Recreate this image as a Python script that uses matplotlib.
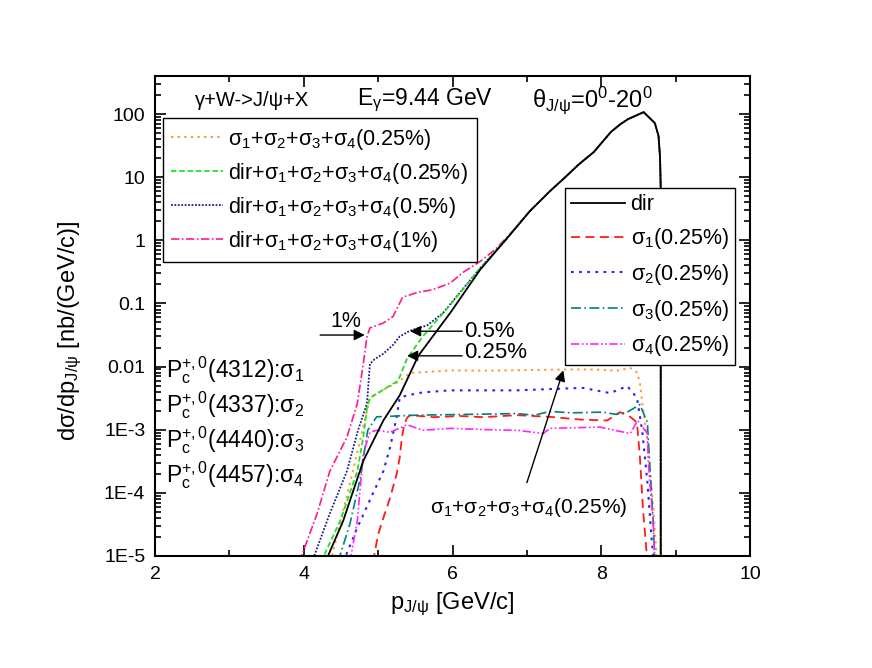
import matplotlib
matplotlib.use("Agg")
import matplotlib.pyplot as plt
from matplotlib.lines import Line2D
from matplotlib.ticker import FixedLocator, FixedFormatter, LogLocator, NullFormatter, MultipleLocator

plt.rcParams['font.family'] = ['Liberation Sans', 'DejaVu Sans']
plt.rcParams['mathtext.fontset'] = 'custom'
plt.rcParams['mathtext.rm'] = 'Liberation Sans'
plt.rcParams['mathtext.it'] = 'Liberation Sans'
plt.rcParams['mathtext.default'] = 'regular'

# ---------------- data ----------------
# direct production
dir_x = [4.29, 4.53, 4.80, 5.07, 5.29, 5.54, 5.97, 6.37, 6.71, 7.04, 7.31, 7.50, 7.70, 7.90,
         8.13, 8.25, 8.36, 8.57, 8.72, 8.77, 8.79, 8.80, 8.80]
dir_y = [8e-6, 3.6e-5, 3.2e-4, 1.4e-3, 3.5e-3, 0.0148, 0.071, 0.34, 1.0, 2.9, 6.0, 9.6, 16,
         25, 52, 68, 83, 107, 72, 45, 21, 6.5, 8e-6]

# shared high-momentum tail of the dir+sigma curves (coincides with dir)
tail_x = dir_x[9:]
tail_y = dir_y[9:]

# sigma_1 (0.25%)
s1_x = [4.93, 5.00, 5.07, 5.16, 5.25, 5.29, 5.32, 5.35, 5.39, 5.43, 5.74, 6.10, 6.41, 6.87,
        7.31, 7.71, 8.08, 8.25, 8.39, 8.48, 8.52, 8.56, 8.62]
s1_y = [8e-6, 2.2e-5, 4e-5, 8.3e-5, 2e-4, 3.6e-4, 7.6e-4, 1.2e-3, 1.55e-3, 1.7e-3, 1.58e-3,
        1.65e-3, 1.58e-3, 1.7e-3, 1.6e-3, 1.45e-3, 1.4e-3, 1.9e-3, 1.6e-3, 1.3e-3, 3.6e-4,
        5.8e-5, 8e-6]

# sigma_2 (0.25%)
s2_x = [4.53, 4.72, 4.93, 5.07, 5.16, 5.25, 5.29, 5.39, 5.60, 5.97, 6.40, 6.87, 7.30, 7.75,
        8.12, 8.35, 8.48, 8.55, 8.62, 8.68, 8.71]
s2_y = [8e-6, 2.8e-5, 9.8e-5, 2.2e-4, 5.2e-4, 1.6e-3, 3.2e-3, 3.5e-3, 3.9e-3, 4.2e-3, 4.2e-3,
        4.2e-3, 4.4e-3, 4.6e-3, 3.8e-3, 4.9e-3, 3.2e-3, 9.8e-4, 1.5e-4, 1.7e-5, 8e-6]

# sigma_3 (0.25%)
s3_x = [4.46, 4.62, 4.76, 4.86, 4.98, 5.52, 6.20, 6.87, 7.10, 7.31, 7.60, 8.02, 8.20, 8.35,
        8.52, 8.62, 8.66, 8.70, 8.72]
s3_y = [8e-6, 3.2e-5, 1.7e-4, 9.8e-4, 1.6e-3, 1.7e-3, 1.75e-3, 1.8e-3, 1.7e-3, 1.95e-3,
        1.85e-3, 1.9e-3, 1.75e-3, 1.9e-3, 2.5e-3, 1.3e-3, 2e-4, 3.2e-5, 8e-6]

# sigma_4 (0.25%)
s4_x = [4.62, 4.72, 4.76, 4.80, 4.89, 4.98, 5.16, 5.39, 5.60, 5.97, 6.50, 6.87, 7.22, 7.31,
        7.98, 8.39, 8.49, 8.62, 8.63, 8.66, 8.70, 8.72]
s4_y = [8e-6, 3.6e-5, 1.2e-4, 4.2e-4, 9.1e-4, 9.8e-4, 9.1e-4, 1.2e-3, 9.8e-4, 1.05e-3,
        1.0e-3, 9.8e-4, 8.7e-4, 1.05e-3, 1.1e-3, 8.7e-4, 1.4e-3, 8.7e-4, 3.6e-4, 1.1e-4,
        3.2e-5, 8e-6]

# sigma_1+sigma_2+sigma_3+sigma_4 (0.25%)
sum_x = [4.36, 4.66, 4.82, 4.89, 5.07, 5.25, 5.43, 5.97, 6.50, 7.00, 7.50, 7.90, 8.21, 8.39,
         8.48, 8.52, 8.56, 8.62, 8.66, 8.70, 8.75]
sum_y = [8e-6, 2.2e-4, 1.4e-3, 3.2e-3, 4.3e-3, 5.5e-3, 7.9e-3, 8.7e-3, 8.6e-3, 8.8e-3,
         9.0e-3, 9.0e-3, 8.6e-3, 9.5e-3, 8.1e-3, 5.5e-3, 2.2e-3, 6.8e-4, 2e-4, 5.8e-5, 8e-6]

# dir + sum, low-momentum parts (continue on the shared tail)
d025_x = [4.23, 4.49, 4.72, 4.80, 4.85, 4.89, 5.07, 5.27, 5.39, 5.60, 5.97, 6.37, 6.71]
d025_y = [8e-6, 3.6e-5, 2.2e-4, 7.6e-4, 2.2e-3, 3.2e-3, 4.3e-3, 6e-3, 0.0135, 0.03, 0.095,
          0.36, 1.0]
d05_x = [4.11, 4.35, 4.58, 4.73, 4.85, 4.89, 4.95, 5.07, 5.20, 5.29, 5.43, 5.66, 5.87, 6.14,
         6.37, 6.71]
d05_y = [8e-6, 4.7e-5, 2.2e-4, 9.8e-4, 2.6e-3, 0.011, 0.013, 0.016, 0.022, 0.03, 0.037,
         0.045, 0.07, 0.17, 0.36, 1.0]
d1_x = [3.94, 4.18, 4.35, 4.58, 4.72, 4.80, 4.85, 4.89, 5.07, 5.20, 5.33, 5.52, 5.74, 5.97,
        6.14, 6.37, 6.57, 6.80]
d1_y = [8e-6, 4.7e-5, 2.2e-4, 7.6e-4, 2.6e-3, 0.011, 0.03, 0.041, 0.049, 0.062, 0.126,
        0.148, 0.166, 0.21, 0.31, 0.46, 0.71, 1.35]

y_ticks = [1e-5, 1e-4, 1e-3, 1e-2, 1e-1, 1, 10, 100]
y_ticklabels = ['1E-5', '1E-4', '1E-3', '0.01', '0.1', '1', '10', '100']
x_ticks = [2, 4, 6, 8, 10]

# ---------------- styles ----------------
S = 'σ$_1$+σ$_2$+σ$_3$+σ$_4$'
styles = {
    'sum':  dict(color='#ff9933', ls=(0, (1.2, 2.2)), lw=1.4),
    'd025': dict(color='#22e022', ls=(0, (3, 1.6)), lw=1.3),
    'd05':  dict(color='#1c1c8c', ls=(0, (1, 0.9)), lw=1.3),
    'd1':   dict(color='#ff1a8c', ls=(0, (5, 1.5, 1, 1.5)), lw=1.2),
    'dir':  dict(color='black', ls='-', lw=1.3),
    's1':   dict(color='#ff1a1a', ls=(0, (5, 3)), lw=1.3),
    's2':   dict(color='#2222ff', ls=(0, (1.3, 2.6)), lw=1.5),
    's3':   dict(color='#00807a', ls=(0, (6, 2, 1, 2)), lw=1.2),
    's4':   dict(color='#ff22ff', ls=(0, (5, 1.5, 1, 1.5, 1, 1.5)), lw=1.2),
}

fig = plt.figure(figsize=(8.72, 6.68), dpi=100)
ax = fig.add_axes([155/872, 1-556/668, 595/872, 480/668])
ax.set_yscale('log')
ax.set_xlim(2, 10)
ax.set_ylim(1e-5, 400)

ax.plot(sum_x, sum_y, **styles['sum'])
ax.plot(s1_x, s1_y, **styles['s1'])
ax.plot(s2_x, s2_y, **styles['s2'])
ax.plot(s3_x, s3_y, **styles['s3'])
ax.plot(s4_x, s4_y, **styles['s4'])
ax.plot(d1_x + tail_x, d1_y + tail_y, **styles['d1'])
ax.plot(d05_x + tail_x, d05_y + tail_y, **styles['d05'])
ax.plot(d025_x + tail_x, d025_y + tail_y, **styles['d025'])
ax.plot(dir_x, dir_y, **styles['dir'])

# ticks
ax.yaxis.set_major_locator(FixedLocator(y_ticks))
ax.yaxis.set_major_formatter(FixedFormatter(y_ticklabels))
ax.yaxis.set_minor_locator(LogLocator(base=10, subs=range(2, 10), numticks=30))
ax.yaxis.set_minor_formatter(NullFormatter())
ax.xaxis.set_major_locator(FixedLocator(x_ticks))
ax.xaxis.set_minor_locator(MultipleLocator(1))
ax.tick_params(which='both', direction='in', top=True, right=True, width=1.2)
ax.tick_params(which='major', length=8, labelsize=14, pad=7)
ax.tick_params(which='minor', length=4)
for s in ax.spines.values():
    s.set_linewidth(1.5)

ax.set_xlabel('p$_{J/ψ}$ [GeV/c]', fontsize=17, labelpad=6)
ax.set_ylabel('dσ/dp$_{J/ψ}$ [nb/(GeV/c)]', fontsize=17)
ax.yaxis.set_label_coords(-0.12, 0.47)

# header texts
ax.text(0.163, 0.95, 'γ+W->J/ψ+X', transform=ax.transAxes, ha='center', va='center', fontsize=14.5)
ax.text(0.454, 0.95, 'E$_γ$=9.44 GeV', transform=ax.transAxes, ha='center', va='center', fontsize=16.5)
ax.text(0.735, 0.95, 'θ$_{J/ψ}$=0$^0$-20$^0$', transform=ax.transAxes, ha='center', va='center', fontsize=17)

# Pc labels
pc_labels = ['P$_c^{+,0}$(4312):σ$_1$', 'P$_c^{+,0}$(4337):σ$_2$',
             'P$_c^{+,0}$(4440):σ$_3$', 'P$_c^{+,0}$(4457):σ$_4$']
for i, t in enumerate(pc_labels):
    ax.text(0.018, 0.388 - i*0.073, t, transform=ax.transAxes, ha='left', va='center', fontsize=16.5)

# arrows
ap = dict(arrowstyle='-|>', color='black', lw=1.0, mutation_scale=16, shrinkA=0, shrinkB=0)
ax.annotate('', xy=(4.82, 0.0316), xytext=(4.22, 0.0316), arrowprops=ap)
ax.text(4.57, 0.052, '1%', ha='center', va='center', fontsize=15.5)
ax.annotate('', xy=(5.43, 0.0363), xytext=(6.13, 0.0363), arrowprops=ap)
ax.text(6.15, 0.0355, '0.5%', ha='left', va='center', fontsize=16)
ax.annotate('', xy=(5.39, 0.0148), xytext=(6.13, 0.0148), arrowprops=ap)
ax.text(6.15, 0.017, '0.25%', ha='left', va='center', fontsize=16)
ax.annotate('', xy=(7.49, 0.0087), xytext=(7.0, 1.45e-4), arrowprops=ap)
ax.text(7.02, 5.8e-5, S + '(0.25%)', ha='center', va='center', fontsize=15)

# legends
h_left = [Line2D([], [], **styles['sum']), Line2D([], [], **styles['d025']),
          Line2D([], [], **styles['d05']), Line2D([], [], **styles['d1'])]
l_left = [S + '(0.25%)', 'dir+' + S + '(0.25%)', 'dir+' + S + '(0.5%)', 'dir+' + S + '(1%)']
leg1 = ax.legend(h_left, l_left, loc='upper left', bbox_to_anchor=(0.013, 0.9125),
                 borderaxespad=0, fontsize=15.5, handlelength=2.4, handletextpad=0.25,
                 labelspacing=0.42, borderpad=0.4, fancybox=False, framealpha=1,
                 edgecolor='black')
leg1.get_frame().set_linewidth(1.0)
leg1.set_zorder(10)
ax.add_artist(leg1)

h_right = [Line2D([], [], **styles['dir']), Line2D([], [], **styles['s1']),
           Line2D([], [], **styles['s2']), Line2D([], [], **styles['s3']),
           Line2D([], [], **styles['s4'])]
l_right = ['dir', 'σ$_1$(0.25%)', 'σ$_2$(0.25%)', 'σ$_3$(0.25%)', 'σ$_4$(0.25%)']
leg2 = ax.legend(h_right, l_right, loc='upper left', bbox_to_anchor=(0.689, 0.767),
                 borderaxespad=0, fontsize=15.5, handlelength=2.5, handletextpad=0.25,
                 labelspacing=0.5, borderpad=0.3, fancybox=False, framealpha=1,
                 edgecolor='black')
leg2.get_frame().set_linewidth(1.0)
leg2.set_zorder(10)

fig.savefig('out.png', dpi=100)
